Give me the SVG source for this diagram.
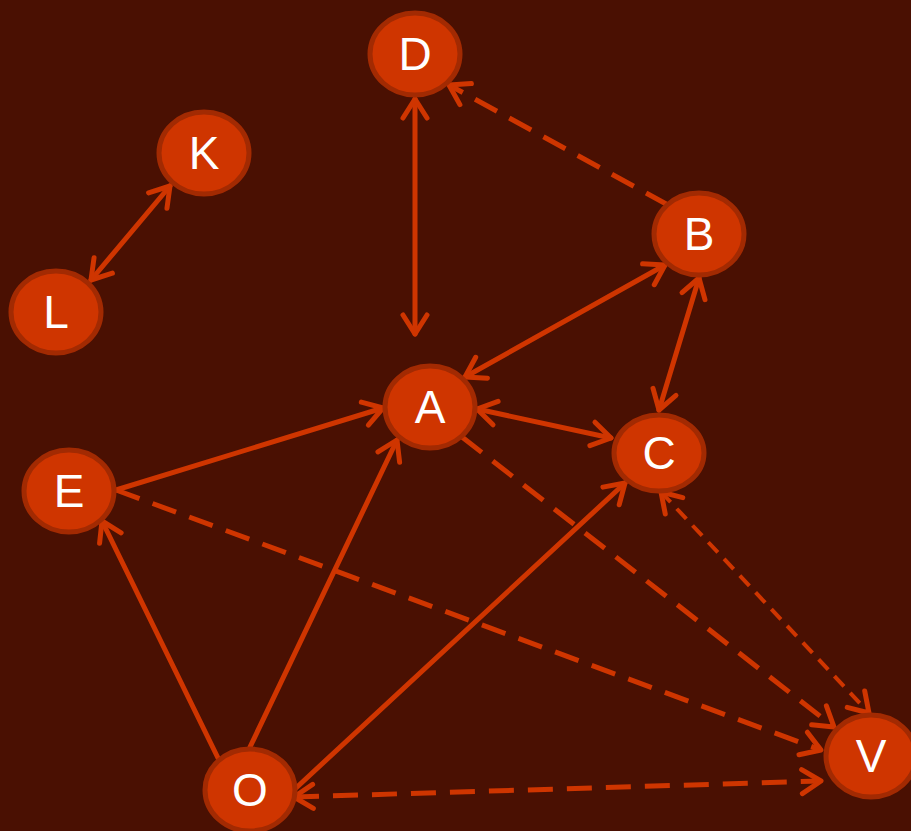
<svg xmlns="http://www.w3.org/2000/svg" width="911" height="831" viewBox="0 0 911 831">
<style>
.node ellipse{fill:#cf3500;stroke:#a22a02;stroke-width:5}
.node text{fill:#ffffff;font-family:"Liberation Sans",Arial,sans-serif;font-size:46px;text-anchor:middle;dominant-baseline:central}
.e{stroke:#cf3500;stroke-width:5;fill:none;stroke-linecap:round}
.d{stroke-dasharray:25 14;stroke-linecap:butt}
.ab{marker-end:url(#ah)}
.bb{marker-start:url(#ah);marker-end:url(#ah)}
</style>
<defs>
<marker id="ah" markerUnits="userSpaceOnUse" markerWidth="40" markerHeight="40" viewBox="-30 -20 40 40" refX="0" refY="0" orient="auto-start-reverse">
<path d="M-19,-12 L0,0 L-19,12" fill="none" stroke="#cf3500" stroke-width="5" stroke-linecap="round" stroke-linejoin="round"/>
</marker>
</defs>
<rect width="911" height="831" fill="#4a1002"/>
<g id="edges">
<line class="e bb" x1="170" y1="186" x2="91" y2="280"/>
<line class="e bb" x1="415" y1="99" x2="415" y2="334"/>
<line class="e d ab" x1="668" y1="205" x2="449" y2="85"/>
<line class="e bb" x1="665" y1="265" x2="465" y2="377"/>
<line class="e bb" x1="699" y1="278" x2="659" y2="410"/>
<line class="e bb" x1="477" y1="409" x2="611" y2="438"/>
<line class="e ab" x1="116" y1="490" x2="383" y2="408"/>
<line class="e ab" x1="218" y1="758" x2="102" y2="521"/>
<line class="e ab" x1="250" y1="747" x2="397" y2="440"/>
<line class="e ab" x1="296" y1="788" x2="625" y2="483"/>
<line class="e d ab" x1="462" y1="437" x2="834" y2="727"/>
<line class="e d ab" x1="116" y1="490" x2="821" y2="750"/>
<line class="e d bb" x1="661" y1="492" x2="869" y2="713" style="stroke-width:4;stroke-dasharray:14 9"/>
<line class="e d bb" x1="294" y1="797" x2="821" y2="781"/>
</g>
<g id="D" class="node"><ellipse cx="415" cy="54" rx="45" ry="41"/><text x="415" y="54">D</text></g>
<g id="K" class="node"><ellipse cx="204" cy="153" rx="45" ry="41"/><text x="204" y="153">K</text></g>
<g id="L" class="node"><ellipse cx="56" cy="312" rx="45" ry="41"/><text x="56" y="312">L</text></g>
<g id="B" class="node"><ellipse cx="699" cy="234" rx="45" ry="41"/><text x="699" y="234">B</text></g>
<g id="A" class="node"><ellipse cx="430" cy="407" rx="45" ry="41"/><text x="430" y="407">A</text></g>
<g id="C" class="node"><ellipse cx="659" cy="453" rx="45" ry="38"/><text x="659" y="453">C</text></g>
<g id="E" class="node"><ellipse cx="69" cy="491" rx="45" ry="41"/><text x="69" y="491">E</text></g>
<g id="V" class="node"><ellipse cx="871" cy="756" rx="45" ry="41"/><text x="871" y="756">V</text></g>
<g id="O" class="node"><ellipse cx="250" cy="790" rx="45" ry="41"/><text x="250" y="790">O</text></g>
</svg>
